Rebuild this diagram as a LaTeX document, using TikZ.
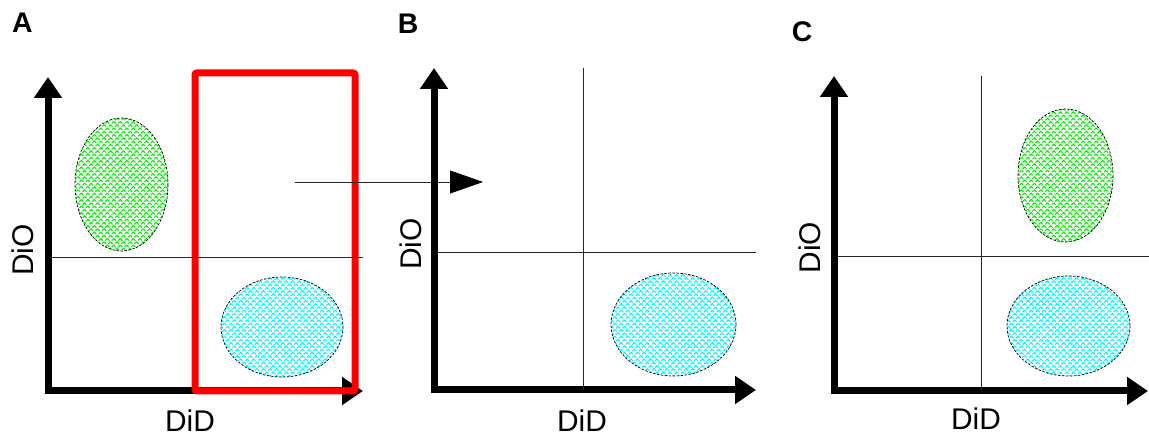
\documentclass[tikz,border=0pt]{standalone}
\usepackage{fontspec}
\setmainfont{Liberation Sans}
\usetikzlibrary{arrows.meta,patterns.meta}

\definecolor{popgreen}{RGB}{0,235,0}
\definecolor{popcyan}{RGB}{0,245,255}

\begin{document}
\begin{tikzpicture}[x=1bp,y=-1bp,line join=miter,
  axis/.style={line width=7bp,{Triangle[length=21bp,width=27bp]}-{Triangle[length=21bp,width=27bp]}},
  gate/.style={line width=0.8bp,black!85},
  cloud/.style={draw=black,line width=0.7bp,dash pattern=on 2.5bp off 1.5bp,
    pattern={Hatch[angle=45,distance=4.6bp,line width=1.1bp]},pattern color=#1},
  selbox/.style={draw=red,line width=7bp,rounded corners=2bp},
  axlabel/.style={font=\fontsize{30}{36}\selectfont,inner sep=0pt},
  panel/.style={font=\fontsize{28.5}{34}\selectfont\bfseries,inner sep=0pt}]
  \useasboundingbox (0,0) rectangle (1149,437);
  % panel A
  \coordinate (Ao) at (48,391);
  \coordinate (Ay) at (48,77);
  \coordinate (Ax) at (363,391);
  \coordinate (Ag1) at (52,257);
  \coordinate (Ag2) at (363,257);
  \draw[axis] (Ay) -- (Ao) -- (Ax);
  \path[cloud=popgreen] (121.5,184.5) ellipse [x radius=46.5,y radius=66.5];
  \path[cloud=popcyan] (282,327) ellipse [x radius=61,y radius=50];
  \coordinate (selNW) at (195,73);
  \coordinate (selSE) at (355,391);
  \draw[selbox] (selNW) rectangle (selSE);
  \draw[gate] (Ag1) -- (Ag2);
  \node[panel] (labA) at (22.5,22.5) {A};
  \node[axlabel,rotate=90] (dioA) at (22.5,250) {DiO};
  \node[axlabel] (didA) at (190,421) {DiD};
  % selection moved to B
  \coordinate (selFrom) at (295,182);
  \coordinate (selTo) at (483,182);
  \draw[gate,-{Triangle[length=33bp,width=23bp,color=black]}] (selFrom) -- (selTo);
  % panel B
  \coordinate (Bo) at (434,390);
  \coordinate (By) at (434,68);
  \coordinate (Bx) at (756,390);
  \coordinate (Bv1) at (583,68);
  \coordinate (Bv2) at (583,390);
  \coordinate (Bh1) at (437,252);
  \coordinate (Bh2) at (756,252);
  \draw[axis] (By) -- (Bo) -- (Bx);
  \draw[gate] (Bv1) -- (Bv2);
  \draw[gate] (Bh1) -- (Bh2);
  \path[cloud=popcyan] (673.5,324.5) ellipse [x radius=62.5,y radius=51.5];
  \node[panel] (labB) at (408,24) {B};
  \node[axlabel,rotate=90] (dioB) at (410.5,244) {DiO};
  \node[axlabel] (didB) at (582,421) {DiD};
  % panel C
  \coordinate (Co) at (834,391);
  \coordinate (Cy) at (834,76);
  \coordinate (Cx) at (1148,391);
  \coordinate (Cv1) at (981,76);
  \coordinate (Cv2) at (981,391);
  \coordinate (Ch1) at (838,256);
  \coordinate (Ch2) at (1149,256);
  \draw[axis] (Cy) -- (Co) -- (Cx);
  \draw[gate] (Cv1) -- (Cv2);
  \draw[gate] (Ch1) -- (Ch2);
  \path[cloud=popgreen] (1065.5,175.5) ellipse [x radius=47.5,y radius=66.5];
  \path[cloud=popcyan] (1068.5,326) ellipse [x radius=61.5,y radius=50];
  \node[panel] (labC) at (802,32) {C};
  \node[axlabel,rotate=90] (dioC) at (809.5,247.5) {DiO};
  \node[axlabel] (didC) at (976,419) {DiD};
\end{tikzpicture}
\end{document}
